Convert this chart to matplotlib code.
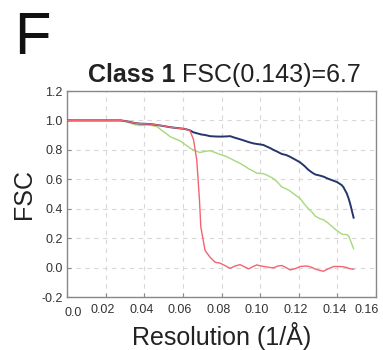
import matplotlib
matplotlib.use("Agg")
import matplotlib.pyplot as plt
from matplotlib import transforms

plt.rcParams['font.family'] = ['Liberation Sans', 'DejaVu Sans']

res = [0.0, 0.01, 0.02, 0.028, 0.032, 0.035, 0.038, 0.041, 0.044, 0.0465, 0.05, 0.0534,
       0.0565, 0.0585, 0.0611, 0.0637, 0.0655, 0.0672, 0.0686, 0.0693, 0.0715, 0.0741,
       0.0767, 0.0793, 0.082, 0.0845, 0.087, 0.0896, 0.092, 0.094, 0.0965, 0.0983, 0.1,
       0.1017, 0.1035, 0.1052, 0.1069, 0.109, 0.1112, 0.1135, 0.1155, 0.118, 0.1207, 0.123,
       0.125, 0.127, 0.1285, 0.131, 0.1328, 0.135, 0.138, 0.1397, 0.1423, 0.1432, 0.1449,
       0.1458, 0.1466, 0.1484]

fsc_blue = [1.0, 1.0, 1.0, 1.0, 0.992, 0.982, 0.978, 0.977, 0.974, 0.969, 0.962, 0.954,
            0.949, 0.946, 0.942, 0.932, 0.919, 0.913, 0.908, 0.905, 0.901, 0.893,
            0.891, 0.89, 0.891, 0.893, 0.882, 0.872, 0.862, 0.853, 0.844, 0.84, 0.837,
            0.833, 0.822, 0.812, 0.80, 0.787, 0.772, 0.765, 0.753, 0.735, 0.715, 0.69,
            0.664, 0.645, 0.633, 0.625, 0.618, 0.605, 0.59, 0.582, 0.56, 0.545, 0.503,
            0.47, 0.435, 0.339]

fsc_green = [1.0, 1.0, 1.0, 1.0, 0.985, 0.972, 0.965, 0.968, 0.966, 0.958, 0.924, 0.89,
             0.872, 0.862, 0.837, 0.812, 0.799, 0.79, 0.783, 0.783, 0.79, 0.794,
             0.782, 0.769, 0.757, 0.742, 0.725, 0.708, 0.69, 0.672, 0.655, 0.642, 0.64,
             0.638, 0.628, 0.617, 0.605, 0.58, 0.548, 0.535, 0.52, 0.495, 0.469, 0.43,
             0.40, 0.375, 0.35, 0.332, 0.325, 0.305, 0.27, 0.252, 0.228, 0.225, 0.224,
             0.215, 0.19, 0.128]

fsc_red = [1.0, 1.0, 1.0, 1.0, 0.992, 0.982, 0.978, 0.977, 0.974, 0.969, 0.962, 0.954,
           0.949, 0.946, 0.942, 0.93, 0.87, 0.73, 0.457, 0.275, 0.116, 0.07,
           0.036, 0.03, 0.012, -0.005, 0.01, 0.02, 0.005, -0.009, 0.008, 0.018, 0.012,
           0.008, 0.005, 0.0, -0.002, 0.01, 0.014, 0.0, -0.016, -0.008, 0.007, 0.01,
           0.009, 0.0, -0.01, -0.02, -0.025, -0.01, 0.007, 0.008, 0.006, 0.005, 0.0,
           -0.005, -0.008, -0.011]

xticks = [0.0, 0.02, 0.04, 0.06, 0.08, 0.10, 0.12, 0.14, 0.16]
xticklabels = ['0.0', '0.02', '0.04', '0.06', '0.08', '0.10', '0.12', '0.14', '0.16']
yticks = [-0.2, 0.0, 0.2, 0.4, 0.6, 0.8, 1.0, 1.2]
yticklabels = ['-0.2', '0.0', '0.2', '0.4', '0.6', '0.8', '1.0', '1.2']

fig = plt.figure(figsize=(3.83, 3.5), dpi=100)
ax = fig.add_axes([67/383, 1-297/350, (376-67)/383, (297-91)/350])

ax.plot(res, fsc_green, color='#a6d97a', lw=1.0, zorder=3)
ax.plot(res, fsc_blue, color='#26356b', lw=1.4, zorder=4)
ax.plot(res, fsc_red, color='#f26470', lw=1.0, zorder=5)

ax.set_xlim(0, 0.16)
ax.set_ylim(-0.2, 1.2)
ax.set_xticks(xticks)
ax.set_xticklabels(xticklabels)
ax.set_yticks(yticks)
ax.set_yticklabels(yticklabels)
ax.tick_params(direction='in', length=3, width=0.8, color='#888888',
               labelsize=9, labelcolor='#333333')
ax.tick_params(axis='x', pad=5)
ax.tick_params(axis='y', pad=3)

# small horizontal nudges of x tick labels (pixels), as in the reference
shifts = {'0.0': (6.5, -3), '0.16': (-9, 0)}
for lab in ax.get_xticklabels():
    dx, dy = shifts.get(lab.get_text(), (-3, 0))
    lab.set_transform(lab.get_transform() + transforms.ScaledTranslation(dx/100, dy/100, fig.dpi_scale_trans))

ax.grid(True, color='#d8d8d8', ls=(0, (4, 4)), lw=0.8)
for s in ax.spines.values():
    s.set_color('#888888')
    s.set_linewidth(1.0)

ax.set_xlabel('Resolution (1/Å)', fontsize=18, color='#222222', labelpad=2)
ax.set_ylabel('FSC', fontsize=18, color='#222222', labelpad=4)

fig.text(14/383, 1-54/350, 'F', fontsize=43, color='#111111', ha='left', va='baseline')

# Title: bold part + regular part, centered
fig.canvas.draw()
r = fig.canvas.get_renderer()
t1 = fig.text(0, 0, 'Class 1 ', fontsize=18, fontweight='bold', color='#222222', va='baseline')
t2 = fig.text(0, 0, 'FSC(0.143)=6.7', fontsize=18, color='#222222', va='baseline')
w1 = t1.get_window_extent(r).width
w2 = t2.get_window_extent(r).width
total = w1 + w2
x0 = 88
ybase = 1 - 82/350
t1.set_position((x0/383, ybase))
t2.set_position(((x0 + w1)/383, ybase))

fig.savefig('out.png', dpi=100)
